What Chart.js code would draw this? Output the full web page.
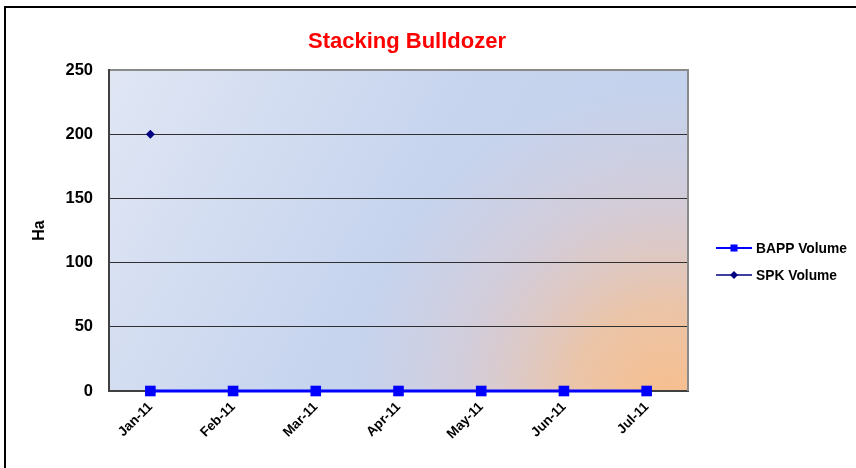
<!DOCTYPE html>
<html lang="en">
<head>
  <meta charset="UTF-8" />
  <title>Stacking Bulldozer</title>
  <script src="https://cdn.jsdelivr.net/npm/chart.js"></script>
  <style>
    html, body { margin: 0; padding: 0; background: #fff; overflow: hidden; }
    #wrap { position: relative; width: 856px; height: 468px; overflow: hidden; }
    #frame { position: absolute; left: 4px; top: 6px; width: 1000px; height: 1000px; border: 2px solid #000; }
    #chart { position: absolute; left: 0; top: 0; }
  </style>
</head>
<body>
  <div id="wrap">
    <div id="frame"></div>
    <canvas id="chart" width="856" height="468"></canvas>
  </div>

  <script>
    const months = ["Jan-11", "Feb-11", "Mar-11", "Apr-11", "May-11", "Jun-11", "Jul-11"];
    const bappVolume = [0, 0, 0, 0, 0, 0, 0];
    const spkVolume = [200, null, null, null, null, null, null];
    const yTicks = [0, 50, 100, 150, 200, 250];

    const FONT = "'Liberation Sans', Arial, sans-serif";

    // plot background: blue wash with an orange glow in the lower right
    const plotBackground = {
      id: "plotBackground",
      beforeDraw(chart) {
        const { ctx, chartArea: a } = chart;
        ctx.save();
        const lin = ctx.createLinearGradient(a.left, a.top, a.right, a.bottom);
        lin.addColorStop(0, "#e0e6f4");
        lin.addColorStop(0.5, "#c6d4ee");
        lin.addColorStop(1, "#c2d1ec");
        ctx.fillStyle = lin;
        ctx.fillRect(a.left, a.top, a.right - a.left, a.bottom - a.top);
        const cx = a.right - 20, cy = a.bottom + 10;
        const rad = ctx.createRadialGradient(cx, cy, 0, cx, cy, 320);
        rad.addColorStop(0, "rgba(248,190,140,1)");
        rad.addColorStop(0.3, "rgba(242,194,156,0.85)");
        rad.addColorStop(0.65, "rgba(228,198,196,0.45)");
        rad.addColorStop(1, "rgba(220,200,210,0)");
        ctx.fillStyle = rad;
        ctx.fillRect(a.left, a.top, a.right - a.left, a.bottom - a.top);
        ctx.restore();
      },
      afterDraw(chart) {
        const { ctx, chartArea: a } = chart;
        ctx.save();
        // right edge of plot box
        ctx.strokeStyle = "#8a8a8a";
        ctx.lineWidth = 2;
        ctx.beginPath();
        ctx.moveTo(a.right, a.top - 1);
        ctx.lineTo(a.right, a.bottom);
        ctx.stroke();

        // title
        ctx.fillStyle = "#ff0000";
        ctx.font = "bold 22px " + FONT;
        ctx.textAlign = "center";
        ctx.textBaseline = "alphabetic";
        ctx.fillText("Stacking Bulldozer", 407, 48);

        // legend
        chart.data.datasets.forEach((ds, i) => {
          const y = 248 + i * 27;
          ctx.strokeStyle = ds.borderColor;
          ctx.lineWidth = i === 0 ? 2 : 1.5;
          ctx.beginPath();
          ctx.moveTo(716, y);
          ctx.lineTo(752, y);
          ctx.stroke();
          ctx.fillStyle = ds.pointBackgroundColor;
          Chart.helpers.drawPoint(ctx, {
            pointStyle: ds.pointStyle,
            radius: i === 0 ? 5 : 4,
            borderWidth: 0,
            rotation: 0
          }, 734, y);
          ctx.fillStyle = "#000";
          ctx.font = "bold 13.8px " + FONT;
          ctx.textAlign = "left";
          ctx.textBaseline = "middle";
          ctx.fillText(ds.label, 756, y + 1);
        });
        ctx.restore();
      }
    };

    new Chart(document.getElementById("chart"), {
      type: "line",
      data: {
        labels: months,
        datasets: [
          {
            label: "BAPP Volume",
            data: bappVolume,
            borderColor: "#0000ff",
            backgroundColor: "#0000ff",
            pointBackgroundColor: "#0000ff",
            pointBorderWidth: 0,
            borderWidth: 3,
            pointStyle: "rect",
            pointRadius: 7.5,
            clip: false,
            order: 0
          },
          {
            label: "SPK Volume",
            data: spkVolume,
            borderColor: "#000080",
            backgroundColor: "#000080",
            pointBackgroundColor: "#000080",
            pointBorderWidth: 0,
            borderWidth: 1.5,
            pointStyle: "rectRot",
            pointRadius: 4.5,
            clip: false,
            order: 1
          }
        ]
      },
      options: {
        responsive: false,
        animation: false,
        events: [],
        layout: { padding: { top: 70, right: 168, left: 0, bottom: 0 } },
        plugins: {
          legend: { display: false },
          title: { display: false },
          tooltip: { enabled: false }
        },
        scales: {
          x: {
            offset: true,
            afterFit(scale) { scale.height = 77; },
            grid: { display: false },
            border: { display: true, color: "#404040", width: 2 },
            ticks: {
              color: "#000",
              font: { family: FONT, size: 13.5, weight: "bold" },
              maxRotation: 45,
              minRotation: 45,
              padding: 0
            }
          },
          y: {
            min: 0,
            max: 250,
            afterFit(scale) { scale.width = 109; },
            afterBuildTicks(scale) { scale.ticks = yTicks.map(v => ({ value: v })); },
            grid: {
              drawTicks: false,
              color: ctx => (ctx.tick && ctx.tick.value === 250 ? "#8a8a8a" : "#303030"),
              lineWidth: ctx => (ctx.tick && ctx.tick.value === 250 ? 2 : 1)
            },
            border: { display: true, color: "#404040", width: 2 },
            ticks: {
              color: "#000",
              font: { family: FONT, size: 16.5, weight: "bold" },
              padding: 16
            },
            title: {
              display: true,
              text: "Ha",
              color: "#000",
              font: { family: FONT, size: 16, weight: "bold" },
              padding: { top: 30, bottom: 0 }
            }
          }
        }
      },
      plugins: [plotBackground]
    });
  </script>
</body>
</html>
